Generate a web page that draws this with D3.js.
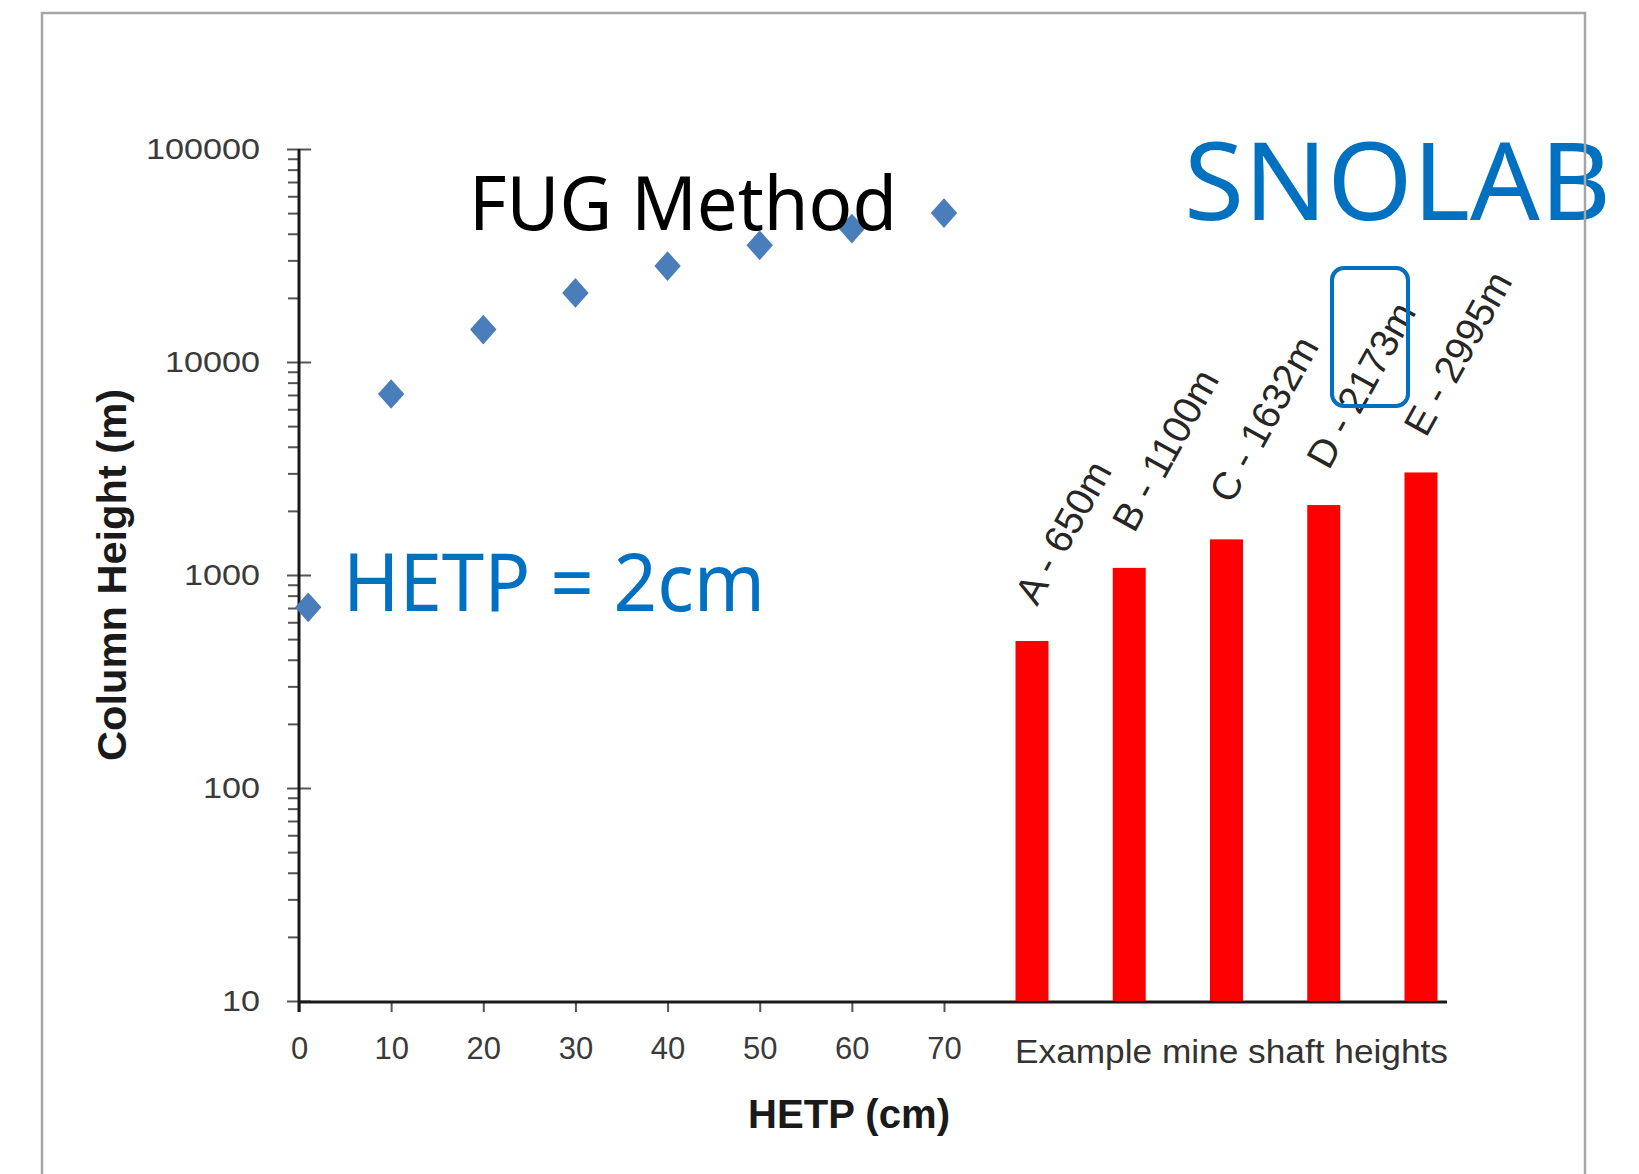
<html><head>
<title>FUG Method - column height vs HETP</title>
<script src="https://d3js.org/d3.v7.min.js"></script>
<style>
  body { margin: 0; background: #fff; }
  text { font-family: "Liberation Sans", Arial, sans-serif; }
  .overlay { font-family: "Noto Sans", "Open Sans", sans-serif; }
</style>
</head>
<body>
<svg id="chart" width="1639" height="1174"></svg>

<script>
// data
let hetp = [1, 10, 20, 30, 40, 50, 60, 70];
let columnHeight = [705, 7080, 14200, 21100, 28200, 35300, 42300, 50000];

let shaftLabels = ["A - 650m", "B - 1100m", "C - 1632m", "D - 2173m", "E - 2995m"];
let shaftHeights = [490, 1080, 1470, 2130, 3030];

let yTicks = [10, 100, 1000, 10000, 100000];
let xTicks = [0, 10, 20, 30, 40, 50, 60, 70];

let svg = d3.select("#chart");
let blue = "#0070c0";

// 1. Scales
let yScale = d3.scaleLog().domain([10, 100000]).range([1001, 149]);
let xScale = d3.scaleLinear().domain([0, 70]).range([299, 944]);
let barScale = d3.scalePoint().domain(shaftLabels).range([1032, 1421]);
let axisY = yScale(10) + 1;
let axisRightEnd = 1447;

// minor ticks 2..9 in each decade
let minorTicks = [];
yTicks.slice(0, -1).forEach(function(d) {
  for (let k = 2; k <= 9; k++) minorTicks.push(d * k);
});

// 2. Y axis (majors, minors, right half of majors)
let yAxisG = svg.append("g").attr("transform", "translate(" + xScale(0) + ",0)");
yAxisG.call(d3.axisLeft(yScale).tickValues(yTicks).tickSize(12).tickPadding(27).tickFormat(d3.format("d")));
yAxisG.append("g").call(d3.axisLeft(yScale).tickValues(minorTicks).tickSize(11).tickFormat(""));
yAxisG.append("g").call(d3.axisRight(yScale).tickValues(yTicks).tickSize(12).tickFormat(""));
yAxisG.selectAll(".domain").remove();
yAxisG.selectAll("line").attr("stroke", "#555").attr("stroke-width", 2);
yAxisG.selectAll("text")
  .attr("font-size", 30)
  .attr("fill", "#3a3a3a")
  .attr("font-family", "Liberation Sans, Arial, sans-serif")
  .attr("textLength", d => String(d).length * 19)
  .attr("lengthAdjust", "spacingAndGlyphs");

// 3. X axis
let xAxisG = svg.append("g").attr("transform", "translate(0," + axisY + ")");
xAxisG.call(d3.axisBottom(xScale).tickValues(xTicks).tickSize(10).tickPadding(25));
xAxisG.selectAll(".domain").remove();
xAxisG.selectAll("line").attr("stroke", "#555").attr("stroke-width", 2);
xAxisG.selectAll("text")
  .attr("font-size", 31)
  .attr("fill", "#3a3a3a")
  .attr("font-family", "Liberation Sans, Arial, sans-serif");

// axis lines
svg.append("line")
  .attr("x1", xScale(0)).attr("x2", xScale(0))
  .attr("y1", yScale(100000)).attr("y2", axisY + 10)
  .attr("stroke", "#1a1a1a").attr("stroke-width", 3);
svg.append("line")
  .attr("x1", xScale(0)).attr("x2", axisRightEnd)
  .attr("y1", axisY).attr("y2", axisY)
  .attr("stroke", "#1a1a1a").attr("stroke-width", 3);

// 4. Bars for the mine shafts
svg.append("g").selectAll("rect")
  .data(shaftHeights)
  .join("rect")
  .attr("x", (d, i) => barScale(shaftLabels[i]) - 16.5)
  .attr("width", 33)
  .attr("y", d => yScale(d))
  .attr("height", d => yScale(10) - yScale(d))
  .attr("fill", "#ff0000");

svg.append("g").selectAll("text")
  .data(shaftHeights)
  .join("text")
  .attr("transform", (d, i) => "translate(" + (barScale(shaftLabels[i]) + 5) + "," + (yScale(d) - 34) + ") rotate(-61)")
  .attr("font-size", 39)
  .attr("fill", "#262626")
  .text((d, i) => shaftLabels[i]);

// 5. Diamonds
let diamond = d3.symbol().type(d3.symbolSquare).size(350);
svg.append("g").selectAll("path")
  .data(hetp)
  .join("path")
  .attr("d", diamond)
  .attr("transform", (d, i) => "translate(" + xScale(d) + "," + yScale(columnHeight[i]) + ") scale(1,1.12) rotate(45)")
  .attr("fill", "#4a7ebb");

// 6. Axis titles
svg.append("text")
  .attr("x", 748).attr("y", 1128)
  .attr("font-size", 40).attr("font-weight", "bold").attr("fill", "#1a1a1a")
  .attr("textLength", 202).attr("lengthAdjust", "spacingAndGlyphs")
  .text("HETP (cm)");

svg.append("text")
  .attr("transform", "translate(126,575) rotate(-90)")
  .attr("text-anchor", "middle")
  .attr("font-size", 40).attr("font-weight", "bold").attr("fill", "#1a1a1a")
  .attr("textLength", 372).attr("lengthAdjust", "spacingAndGlyphs")
  .text("Column Height (m)");

svg.append("text")
  .attr("x", 1015).attr("y", 1063)
  .attr("font-size", 34).attr("fill", "#333")
  .attr("textLength", 433).attr("lengthAdjust", "spacingAndGlyphs")
  .text("Example mine shaft heights");

// 7. Overlaid annotations
svg.append("text").attr("class", "overlay")
  .attr("x", 469).attr("y", 230)
  .attr("font-size", 75).attr("fill", "#000")
  .attr("textLength", 428).attr("lengthAdjust", "spacingAndGlyphs")
  .text("FUG Method");

svg.append("text").attr("class", "overlay")
  .attr("x", 343).attr("y", 611)
  .attr("font-size", 80).attr("fill", blue)
  .attr("textLength", 422).attr("lengthAdjust", "spacingAndGlyphs")
  .text("HETP = 2cm");

svg.append("text").attr("class", "overlay")
  .attr("x", 1184).attr("y", 220)
  .attr("font-size", 108).attr("fill", blue)
  .attr("textLength", 427).attr("lengthAdjust", "spacingAndGlyphs")
  .text("SNOLAB");

svg.append("rect")
  .attr("x", 1332).attr("y", 268).attr("width", 76).attr("height", 138)
  .attr("rx", 12).attr("ry", 12)
  .attr("fill", "none").attr("stroke", blue).attr("stroke-width", 4);

// 8. Grey frame of the pasted chart (bottom edge is cut off)
svg.append("rect")
  .attr("x", 42).attr("y", 13).attr("width", 1543).attr("height", 1300)
  .attr("fill", "none").attr("stroke", "#a6a6a6").attr("stroke-width", 2.5);
</script>
</body>
</html>
